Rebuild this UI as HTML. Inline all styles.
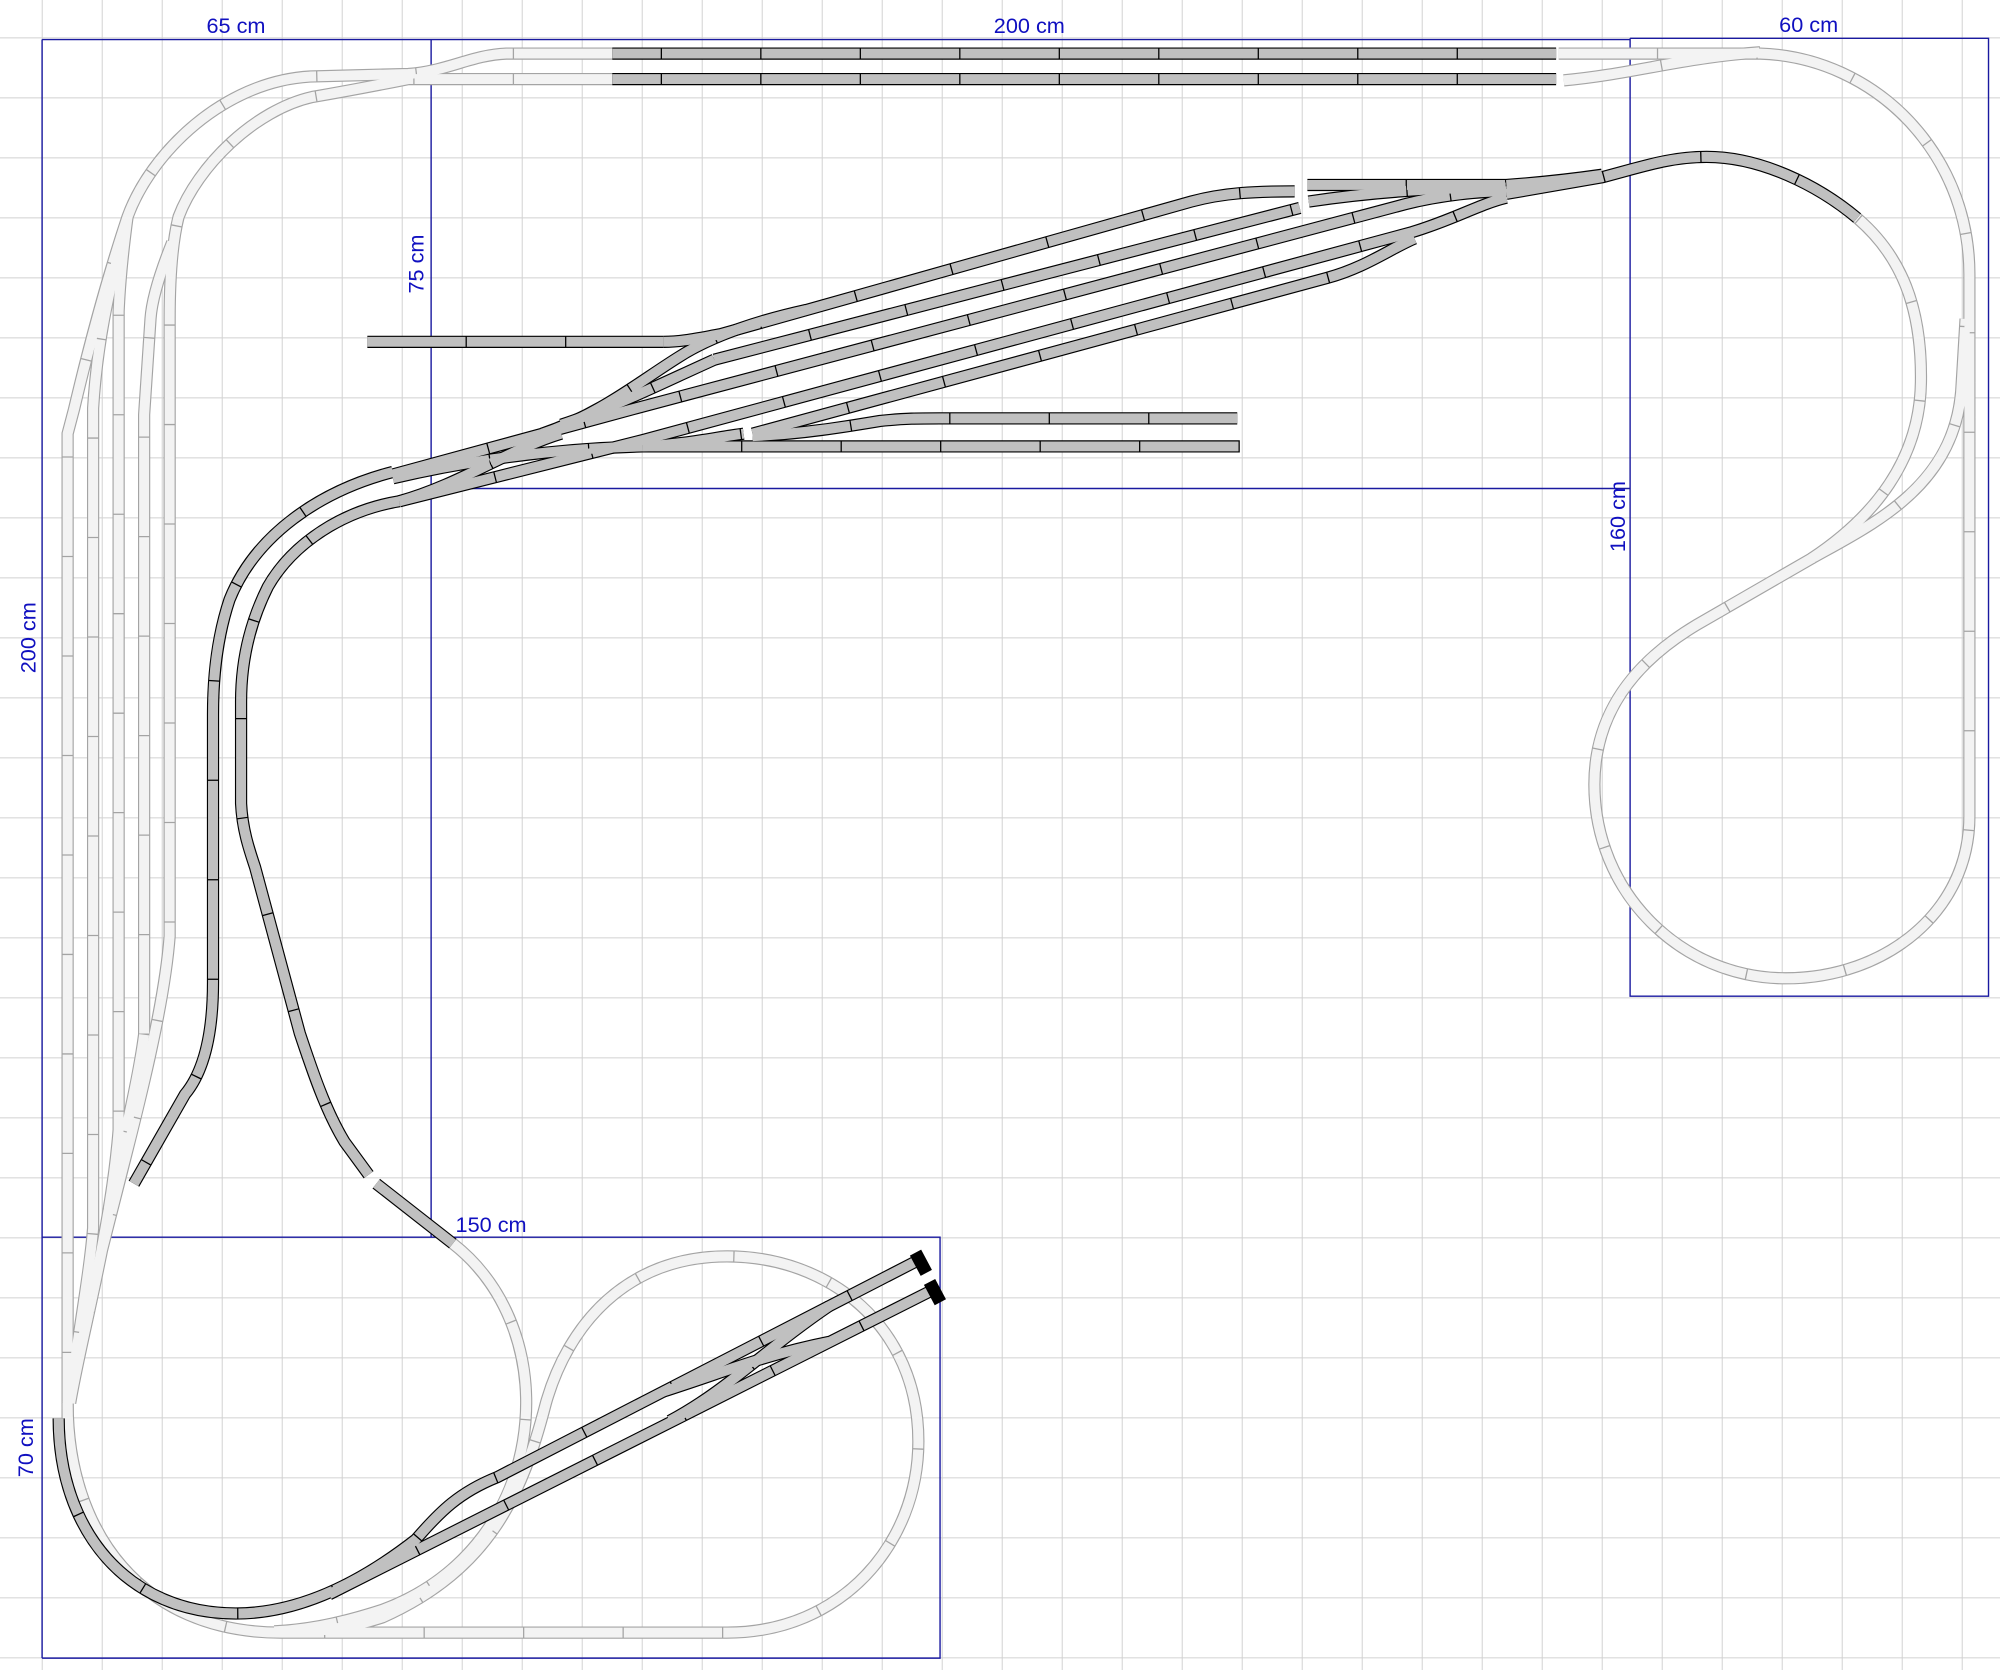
<!DOCTYPE html>
<html><head><meta charset="utf-8"><style>
html,body{margin:0;padding:0;background:#fff}
svg{display:block}
.lo{fill:none;stroke:#a4a4a4;stroke-width:9.6}
.li{fill:none;stroke:#f3f3f3;stroke-width:7.8;stroke-dasharray:77 1}
.do{fill:none;stroke:#000;stroke-width:9.6}
.di{fill:none;stroke:#c0c0c0;stroke-width:7.8;stroke-dasharray:77 1}
.bl{stroke:#1a1aa0;stroke-width:1.1;fill:none}
text{font-family:"Liberation Sans",sans-serif;font-size:17px;fill:#1010c0}
</style></head><body>
<svg width="2000" height="1670" viewBox="0 0 1568 1309.3" preserveAspectRatio="none" xmlns="http://www.w3.org/2000/svg">
<defs>
<pattern id="g" patternUnits="userSpaceOnUse" x="32.7" y="29.3" width="47.04" height="47.04">
<path d="M0,0 V47.04 M0,0 H47.04" stroke="#d2d2d2" stroke-width="1.6" fill="none"/>
</pattern>
<path id="L1" d="M480,42 L397,42 C370,43 350,56 320,58 L243,60 C175,64 118,120 100,170 C85,215 70,270 58,321 L53,340 L53,1112"/>
<path id="L2" d="M95,190 C85,230 76,270 73,320 L73,963 C70,1000 62,1040 55,1095"/>
<path id="L3" d="M100,170 C96,200 94,220 93,244 L93,886 C88,950 70,1030 53,1100"/>
<path id="L4" d="M480,62 L320,62 C300,66 280,70 245,76 C200,86 155,130 140,170 C135,190 133,220 133,250 L133,734 C128,800 100,900 80,980 C70,1030 60,1070 55,1100"/>
<path id="L5" d="M135,190 C125,215 119,235 118,250 L113,325 L113,811 C108,850 95,900 85,950"/>
<path id="L6" d="M1222,42 L1380,42 C1470,45 1544,120 1544,215 L1544,640 C1544,715 1478,767 1400,767 C1318,767 1250,700 1250,615 C1250,560 1280,520 1330,490 L1420,438 C1470,410 1535,380 1538,300 L1541,250"/>
<path id="L7" d="M1420,438 C1470,405 1505,360 1506,300 C1507,240 1490,200 1456,171"/>
<path id="L8" d="M1226,63 C1280,58 1320,45 1380,41"/>
<path id="L9" d="M355,975 C400,1010 420,1070 410,1130 C400,1190 360,1240 300,1262 C260,1275 235,1278 215,1279"/>
<path id="L10" d="M53,1100 C53,1200 110,1280 220,1280 L570,1280 C660,1280 720,1210 720,1130 C720,1040 650,985 570,985 C490,985 445,1040 428,1100 C410,1170 385,1230 300,1268 C270,1278 240,1280 220,1280"/>
<path id="D1" d="M480,42 L1220,42"/>
<path id="D2" d="M480,62 L1220,62"/>
<path id="D3" d="M288,268 L520,268"/>
<path id="D4" d="M1181,152 L1256,139 C1290,130 1310,123 1338,123 C1380,123 1425,145 1456,171"/>
<path id="D5" d="M520,268 C535,268 548,265 565,262 L934,158 C960,151 985,150 1015,150"/>
<path id="D6" d="M1025,145 L1181,145 C1210,143 1235,140 1256,137"/>
<path id="D7" d="M1026,158 C1080,150 1130,147 1181,147"/>
<path id="D8" d="M560,282 L1019,163"/>
<path id="D9" d="M308,372 L499,320 L1102,160 C1130,153 1160,150 1181,150"/>
<path id="D10" d="M313,393 L504,345 L1107,182 C1140,172 1160,160 1181,155"/>
<path id="D11" d="M590,340 L1040,218 C1070,210 1090,195 1109,187"/>
<path id="D12" d="M425,340 C470,325 500,300 532,280 C560,262 600,250 632,243"/>
<path id="D13" d="M440,333 C480,320 520,300 560,282"/>
<path id="D14" d="M308,375 C350,365 420,352 504,350"/>
<path id="D15" d="M313,393 C360,380 400,352 440,340"/>
<path id="D16" d="M504,350 L972,350"/>
<path id="D17" d="M504,350 C540,348 560,343 583,340"/>
<path id="D18" d="M590,342 C630,340 660,335 690,330 C710,328 720,328 737,328 L970,328"/>
<path id="D19" d="M308,370 C250,385 200,420 180,470 C170,500 167,530 167,560 L167,770 C167,810 160,840 145,858 L105,928"/>
<path id="D20" d="M313,393 C270,400 230,425 210,460 C195,490 189,520 189,550 L189,630 C190,650 195,665 200,680 L235,810 C245,840 255,870 270,895 L289,921"/>
<path id="D21" d="M295,928 L355,975"/>
<path id="D22" d="M46,1112 C46,1200 100,1265 185,1265 C240,1265 290,1235 326,1207 C345,1185 360,1170 390,1158 L720,988"/>
<path id="D23" d="M258,1250 L730,1012"/>
<path id="D24" d="M520,1091 C570,1075 600,1062 650,1052"/>
<path id="D25" d="M525,1114 C570,1090 600,1058 650,1024"/>
</defs>
<rect width="1568" height="1309.3" fill="#fff"/>
<rect width="1568" height="1309.3" fill="url(#g)"/>
<path class="bl" d="M33,31 H1278 M33,31 V1300 M338,31 V970 M338,383 H1278 M1278,30 H1559 V781 H1278 V30 M33,970 H737 V1300 H33"/>
<text x="185" y="26" text-anchor="middle">65 cm</text>
<text x="807" y="26" text-anchor="middle">200 cm</text>
<text x="1418" y="25" text-anchor="middle">60 cm</text>
<text x="385" y="966" text-anchor="middle">150 cm</text>
<text transform="translate(332,207) rotate(-90)" text-anchor="middle">75 cm</text>
<text transform="translate(1274,405) rotate(-90)" text-anchor="middle">160 cm</text>
<text transform="translate(28,500) rotate(-90)" text-anchor="middle">200 cm</text>
<text transform="translate(26,1135) rotate(-90)" text-anchor="middle">70 cm</text>
<g class="lo"><use href="#L1"/><use href="#L2"/><use href="#L3"/><use href="#L4"/><use href="#L5"/><use href="#L6"/><use href="#L7"/><use href="#L8"/><use href="#L9"/><use href="#L10"/></g>
<g class="li"><use href="#L1"/><use href="#L2"/><use href="#L3"/><use href="#L4"/><use href="#L5"/><use href="#L6"/><use href="#L7"/><use href="#L8"/><use href="#L9"/><use href="#L10"/></g>
<g class="do"><use href="#D1"/><use href="#D2"/><use href="#D3"/><use href="#D4"/><use href="#D5"/><use href="#D6"/><use href="#D7"/><use href="#D8"/><use href="#D9"/><use href="#D10"/><use href="#D11"/><use href="#D12"/><use href="#D13"/><use href="#D14"/><use href="#D15"/><use href="#D16"/><use href="#D17"/><use href="#D18"/><use href="#D19"/><use href="#D20"/><use href="#D21"/><use href="#D22"/><use href="#D23"/><use href="#D24"/><use href="#D25"/></g>
<g class="di"><use href="#D1" style="stroke-dashoffset:39"/><use href="#D2" style="stroke-dashoffset:39"/><use href="#D3"/><use href="#D4"/><use href="#D5"/><use href="#D6"/><use href="#D7"/><use href="#D8"/><use href="#D9"/><use href="#D10"/><use href="#D11"/><use href="#D12"/><use href="#D13"/><use href="#D14"/><use href="#D15"/><use href="#D16"/><use href="#D17"/><use href="#D18"/><use href="#D19"/><use href="#D20"/><use href="#D21"/><use href="#D22"/><use href="#D23"/><use href="#D24"/><use href="#D25"/></g>
<rect x="-5" y="-9" width="10" height="18" fill="#000" transform="translate(722,990) rotate(-28)"/>
<rect x="-5" y="-9" width="10" height="18" fill="#000" transform="translate(733,1013) rotate(-28)"/>
</svg>
</body></html>
